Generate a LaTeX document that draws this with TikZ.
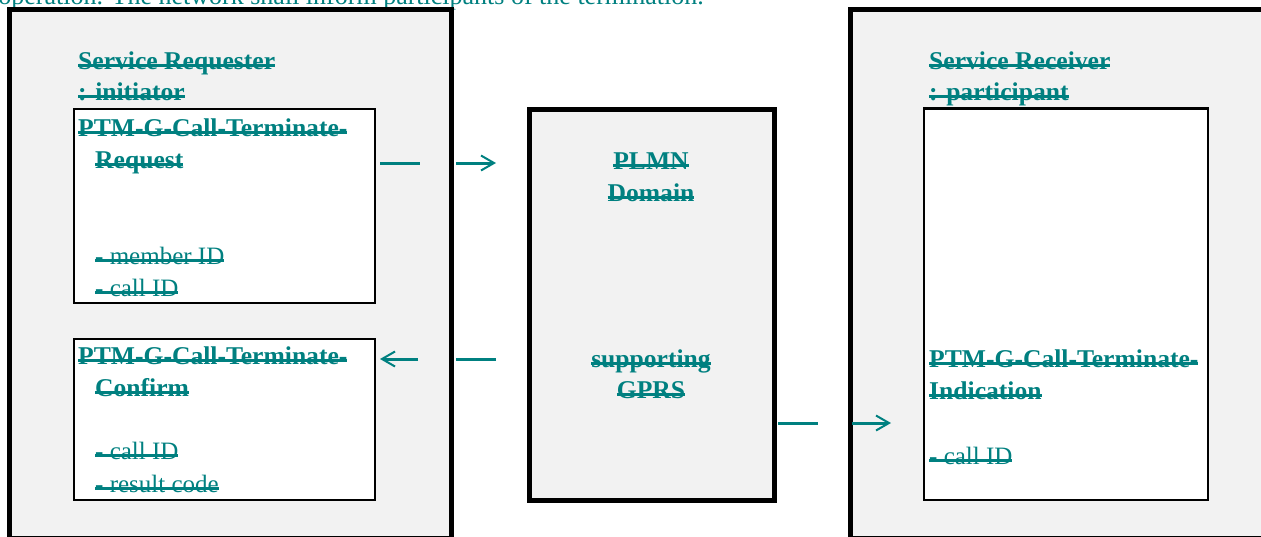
\documentclass[tikz,border=0pt]{standalone}
\usepackage{fontspec}
\setmainfont{Liberation Serif}
\usepackage{xcolor}
\usepackage{tikz}
\usetikzlibrary{positioning,arrows.meta}

\definecolor{msgteal}{RGB}{0,128,128}
\definecolor{boxgray}{RGB}{242,242,242}
\newcommand{\strk}[1]{\sbox0{#1}\rlap{\rule[2.3pt]{\wd0}{2.8pt}}\box0}

\begin{document}
\begin{tikzpicture}[x=1pt,y=-1pt,
    outbox/.style={draw, line width=5pt, fill=boxgray, anchor=north west, inner sep=0pt, outer sep=0pt},
    inbox/.style={draw, line width=2.5pt, fill=white, anchor=north west, inner sep=0pt, outer sep=0pt},
    lbl/.style={anchor=base west, inner sep=0pt, text=msgteal, font=\fontsize{25}{30}\selectfont},
    hd/.style={lbl, font=\fontsize{25.6}{30}\selectfont\bfseries},
    msg/.style={msgteal, line width=3pt, -{Straight Barb[length=13pt,width=15pt,line width=2pt]}}]
    \useasboundingbox (0,0) rectangle (1261,536);
    \clip (0,0) rectangle (1261,536);

    \node[lbl, anchor=base east, font=\fontsize{26}{30}\selectfont] (intro) at (704,4) {operation. The network shall inform participants of the termination.};

    % boxes
    \node[outbox, minimum width=442pt, minimum height=528.5pt] (reqside) at (9,9.5) {};
    \node[outbox, minimum width=420pt, minimum height=528.5pt] (rcvside) at (850.5,9.5) {};
    \node[inbox, minimum width=301pt, minimum height=194pt] (req) at (74,109) {};
    \node[inbox, minimum width=301pt, minimum height=161pt] (conf) at (74,339) {};
    \node[outbox, minimum width=245.5pt, minimum height=391pt] (plmn) at (529,109.5) {};
    \node[inbox, minimum width=284pt, minimum height=391.5pt] (ind) at (924,108.5) {};

    % requester side
    \node[hd] (reqname) at (78,69) {\strk{Service Requester}};
    \node[hd] (reqrole) at (78,100) {\strk{: initiator}};
    \node[hd] (reqa) at (78,136) {\strk{PTM-G-Call-Terminate-}};
    \node[hd] (reqb) at (95,168) {\strk{Request}};
    \node[lbl] (reqc) at (95,264) {\strk{- member ID}};
    \node[lbl] (reqd) at (95,296) {\strk{- call ID}};
    \node[hd] (confa) at (78,364) {\strk{PTM-G-Call-Terminate-}};
    \node[hd] (confb) at (95,396) {\strk{Confirm}};
    \node[lbl] (confc) at (95,459) {\strk{- call ID}};
    \node[lbl] (confd) at (95,492) {\strk{- result code}};

    % network
    \node[hd, anchor=base] (plmna) at (651,169) {\strk{PLMN}};
    \node[hd, anchor=base] (plmnb) at (651,201) {\strk{Domain}};
    \node[hd, anchor=base] (plmnc) at (651,367) {\strk{supporting}};
    \node[hd, anchor=base] (plmnd) at (651,398) {\strk{GPRS}};

    % receiver side
    \node[hd] (rcvname) at (929,69) {\strk{Service Receiver}};
    \node[hd] (rcvrole) at (929,100) {\strk{: participant}};
    \node[hd] (inda) at (929,367) {\strk{PTM-G-Call-Terminate-}};
    \node[hd] (indb) at (929,399) {\strk{Indication}};
    \node[lbl] (indc) at (929,464) {\strk{- call ID}};

    % messages
    \draw[msg, dash pattern=on 40pt off 36pt on 40pt] ([xshift=5pt,yshift=-54pt]req.north east) -- ([xshift=-33pt,yshift=142pt]plmn.west);
    \draw[msg, dash pattern=on 40pt off 38pt on 40pt] ([xshift=-33pt,yshift=-54pt]plmn.west) -- ([xshift=5pt,yshift=-20pt]conf.north east);
    \draw[msg, dash pattern=on 40pt off 34pt on 40pt] ([xshift=3.5pt,yshift=-118pt]plmn.east) -- ([xshift=-33pt,yshift=-118.75pt]ind.west);
\end{tikzpicture}
\end{document}
